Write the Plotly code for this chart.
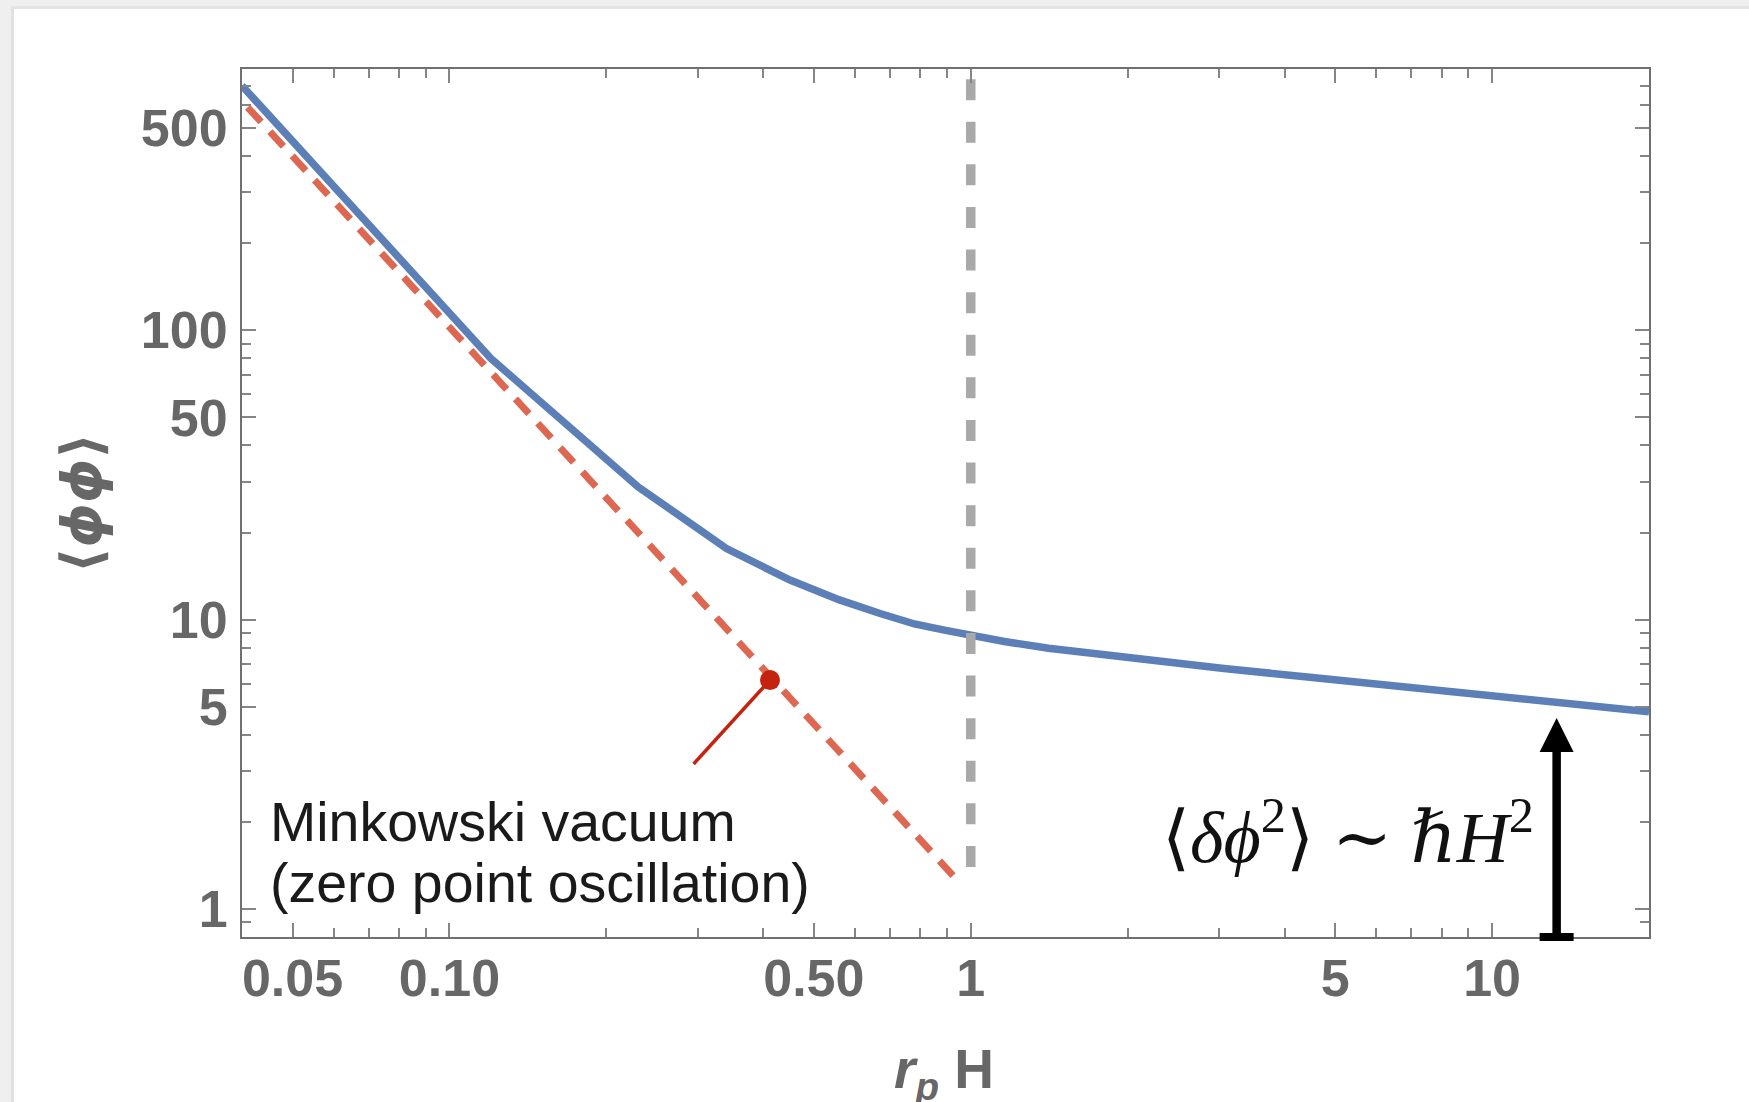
import math
import plotly.graph_objects as go

# ---------------- data ----------------
blue_x = [0.04, 0.12, 0.23, 0.34, 0.45, 0.56, 0.67, 0.78, 0.89, 1.0,
          1.16, 1.41, 1.71, 2.07, 3.06, 4.52, 6.66, 9.82, 14.5, 20.0]
blue_y = [700, 80, 28.8, 17.6, 13.7, 11.7, 10.5, 9.66, 9.2, 8.8,
          8.4, 7.96, 7.64, 7.34, 6.78, 6.31, 5.89, 5.48, 5.09, 4.80]

mink_x = [0.041, 0.93]
mink_y = [590, 1.29]

horizon_x = [1.0, 1.0]
horizon_y = [738, 1.25]

dot_x = [0.412]
dot_y = [6.18]
pointer_x = [0.412, 0.294]
pointer_y = [6.18, 3.17]

arrow_x = 13.3
arrow_y_base = 0.8
arrow_y_tip = 4.57

x_range = [0.04, 20]
y_range = [0.8, 800]
x_tickvals = [0.05, 0.1, 0.5, 1, 5, 10]
x_ticktext = ["0.05", "0.10", "0.50", "1", "5", "10"]
y_tickvals = [1, 5, 10, 50, 100, 500]
y_ticktext = ["1", "5", "10", "50", "100", "500"]
x_minor = [0.06, 0.07, 0.08, 0.09, 0.2, 0.3, 0.4, 0.6, 0.7, 0.8, 0.9,
           2, 3, 4, 6, 7, 8, 9]
y_minor = [0.9, 2, 3, 4, 6, 7, 8, 9, 20, 30, 40, 60, 70, 80, 90,
           200, 300, 400, 600, 700]

x_title = "<i>r</i><sub><i>p</i></sub> H"
y_title = "⟨<i>ϕϕ</i>⟩"
label_line1 = "Minkowski vacuum"
label_line2 = "(zero point oscillation)"
formula = "⟨<i>δϕ</i><sup>2</sup>⟩ ∼ <i>ℏH</i><sup>2</sup>"

# ---------------- layout geometry ----------------
W, H = 1749, 1102
ML, MR, MT, MB = 242, 100, 69, 165
PW, PH = W - ML - MR, H - MT - MB


def px2paper_x(px):
    return (px - ML) / PW


def px2paper_y(py):
    return (H - MB - py) / PH


def data2paper_x(v):
    lo, hi = math.log10(x_range[0]), math.log10(x_range[1])
    return (math.log10(v) - lo) / (hi - lo)


def data2paper_y(v):
    lo, hi = math.log10(y_range[0]), math.log10(y_range[1])
    return (math.log10(v) - lo) / (hi - lo)


BLUE = "#5b7fb6"
RED = "#dd6751"
DARKRED = "#c4230f"
GREY = "#a9a9a9"
TXT = "#676767"
FRAME = "#707070"
TICK = "#858585"

fig = go.Figure()

fig.add_trace(go.Scatter(x=mink_x, y=mink_y, mode="lines",
                         line=dict(color=RED, width=7, dash="20px,13px"),
                         hoverinfo="skip"))
fig.add_trace(go.Scatter(x=blue_x, y=blue_y, mode="lines",
                         line=dict(color=BLUE, width=7.5),
                         hoverinfo="skip"))
fig.add_trace(go.Scatter(x=horizon_x, y=horizon_y, mode="lines",
                         line=dict(color=GREY, width=9.5, dash="21px,21.6px"),
                         hoverinfo="skip"))
fig.add_trace(go.Scatter(x=pointer_x, y=pointer_y, mode="lines",
                         line=dict(color=DARKRED, width=3.5),
                         hoverinfo="skip"))
fig.add_trace(go.Scatter(x=dot_x, y=dot_y, mode="markers",
                         marker=dict(color=DARKRED, size=20, line=dict(width=0)),
                         hoverinfo="skip"))

axis_common = dict(
    type="log", showgrid=False, zeroline=False,
    showline=True, linecolor=FRAME, linewidth=2, mirror="ticks",
    ticks="inside", ticklen=14, tickwidth=1.5, tickcolor=TICK,
    tickmode="array",
    tickfont=dict(family="Liberation Sans, Arial", size=52, color=TXT, weight="bold"),
)

fig.update_layout(
    width=W, height=H,
    margin=dict(l=ML, r=MR, t=MT, b=MB, autoexpand=False),
    paper_bgcolor="white", plot_bgcolor="white",
    showlegend=False,
    xaxis=dict(
        axis_common,
        range=[math.log10(x_range[0]), math.log10(x_range[1])],
        tickvals=x_tickvals, ticktext=x_ticktext,
        ticklabelstandoff=-5,
        minor=dict(tickmode="array", tickvals=x_minor, ticks="inside",
                   ticklen=9, tickwidth=1.5, tickcolor=TICK),
    ),
    yaxis=dict(
        axis_common,
        range=[math.log10(y_range[0]), math.log10(y_range[1])],
        tickvals=y_tickvals, ticktext=y_ticktext,
        ticklabelstandoff=2,
        minor=dict(tickmode="array", tickvals=y_minor, ticks="inside",
                   ticklen=9, tickwidth=1.5, tickcolor=TICK),
        title=dict(text=y_title, standoff=21,
                   font=dict(family="DejaVu Sans, Liberation Sans", size=56,
                             color=TXT, weight="bold")),
    ),
)

# grey window frame (left and top strips with a soft shadow) + arrow base bar
shapes = [
    dict(type="rect", xref="paper", yref="paper", layer="below",
         x0=px2paper_x(0), x1=px2paper_x(14), y0=px2paper_y(0), y1=px2paper_y(H),
         fillcolor="#efefef", line=dict(width=0)),
    dict(type="rect", xref="paper", yref="paper", layer="below",
         x0=px2paper_x(0), x1=px2paper_x(W), y0=px2paper_y(0), y1=px2paper_y(9),
         fillcolor="#efefef", line=dict(width=0)),
    dict(type="rect", xref="paper", yref="paper", layer="below",
         x0=px2paper_x(11), x1=px2paper_x(14), y0=px2paper_y(9), y1=px2paper_y(H),
         fillcolor="#e1e1e1", line=dict(width=0)),
    dict(type="rect", xref="paper", yref="paper", layer="below",
         x0=px2paper_x(11), x1=px2paper_x(W), y0=px2paper_y(6), y1=px2paper_y(9),
         fillcolor="#e4e4e4", line=dict(width=0)),
    dict(type="rect", xref="paper", yref="paper", layer="above",
         xsizemode="pixel", xanchor=data2paper_x(arrow_x), x0=-17, x1=17,
         ysizemode="pixel", yanchor=data2paper_y(arrow_y_base), y0=-4, y1=4,
         fillcolor="black", line=dict(width=0)),
]
fig.update_layout(shapes=shapes)

lx = math.log10
annotations = [
    # arrow
    dict(x=lx(arrow_x), y=lx(arrow_y_tip), ax=lx(arrow_x), ay=lx(arrow_y_base),
         xref="x", yref="y", axref="x", ayref="y", text="", showarrow=True,
         arrowhead=2, arrowsize=0.8, arrowwidth=8.5, arrowcolor="black",
         standoff=0, startstandoff=0),
    # x-axis title (its subscript touches the bottom edge, as in the original)
    dict(x=px2paper_x(944), y=px2paper_y(1073), xref="paper", yref="paper",
         text=x_title, showarrow=False, xanchor="center", yanchor="middle",
         font=dict(family="Liberation Sans, Arial", size=55, color=TXT,
                   weight="bold")),
    # Minkowski label
    dict(x=px2paper_x(268), y=px2paper_y(822), xref="paper", yref="paper",
         text=label_line1, showarrow=False, xanchor="left", yanchor="middle",
         font=dict(family="Liberation Sans, Arial", size=55.5, color="#1a1a1a")),
    dict(x=px2paper_x(268), y=px2paper_y(883), xref="paper", yref="paper",
         text=label_line2, showarrow=False, xanchor="left", yanchor="middle",
         font=dict(family="Liberation Sans, Arial", size=55.5, color="#1a1a1a")),
    # formula
    dict(x=px2paper_x(1536), y=px2paper_y(832), xref="paper", yref="paper",
         text=formula, showarrow=False, xanchor="right", yanchor="middle",
         font=dict(family="Liberation Serif, Times New Roman, DejaVu Serif",
                   size=72, color="#111111")),
]
fig.update_layout(annotations=annotations)

fig.write_html("out.html",
               config={"displayModeBar": False},
               post_script="document.body.style.margin='0px';")
